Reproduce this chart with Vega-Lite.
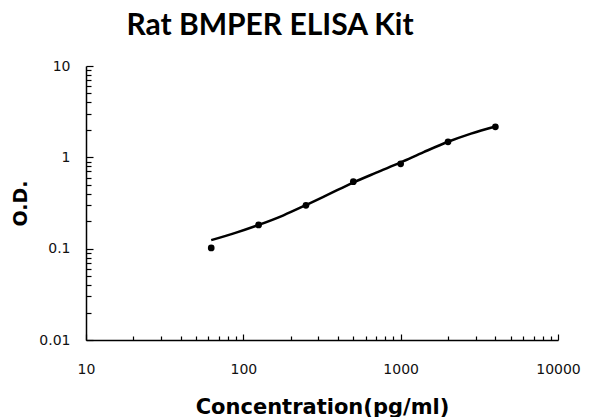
{
  "$schema": "https://vega.github.io/schema/vega-lite/v6.json",
  "autosize": {"type": "none"},
  "width": 472,
  "height": 274,
  "padding": {"left": 86, "top": 66, "right": 31, "bottom": 77},
  "background": "white",
  "config": {"view": {"stroke": null}},
  "title": {
    "text": "Rat BMPER ELISA Kit",
    "font": "Lato",
    "fontSize": 30,
    "fontWeight": "bold",
    "color": "#000000",
    "anchor": "middle",
    "dx": -52,
    "baseline": "alphabetic",
    "offset": -6
  },
  "datasets": {
    "points": [
      {"conc": 62.5, "od": 0.102},
      {"conc": 125, "od": 0.182},
      {"conc": 250, "od": 0.298},
      {"conc": 500, "od": 0.541},
      {"conc": 1000, "od": 0.85},
      {"conc": 2000, "od": 1.48},
      {"conc": 4000, "od": 2.16}
    ],
    "curve": [
      {"conc": 62.5, "od": 0.124},
      {"conc": 90, "od": 0.15},
      {"conc": 125, "od": 0.182},
      {"conc": 180, "od": 0.232},
      {"conc": 250, "od": 0.3},
      {"conc": 350, "od": 0.395},
      {"conc": 500, "od": 0.53},
      {"conc": 700, "od": 0.68},
      {"conc": 1000, "od": 0.88},
      {"conc": 1400, "od": 1.14},
      {"conc": 2000, "od": 1.48},
      {"conc": 2800, "od": 1.82},
      {"conc": 4000, "od": 2.18}
    ]
  },
  "layer": [
    {
      "data": {"name": "curve"},
      "mark": {"type": "line", "color": "#000000", "strokeWidth": 2.5, "interpolate": "monotone"},
      "encoding": {
        "x": {
          "field": "conc", "type": "quantitative",
          "scale": {"type": "log", "domain": [10, 10000]},
          "axis": {
            "title": "Concentration(pg/ml)",
            "titleFont": "DejaVu Sans", "titleFontSize": 21, "titleFontWeight": "bold", "titleColor": "#000000",
            "titleX": 236, "titleY": 73, "titleAlign": "center", "titleBaseline": "alphabetic",
            "values": [10,20,30,40,50,60,70,80,90,100,200,300,400,500,600,700,800,900,1000,2000,3000,4000,5000,6000,7000,8000,9000,10000],
            "format": "d",
            "labelExpr": "abs(log(datum.value)/LN10 - round(log(datum.value)/LN10)) < 0.000001 ? datum.label : ''",
            "labelFont": "DejaVu Sans", "labelFontSize": 14, "labelColor": "#111111",
            "labelPadding": 28,
            "labelFlush": false,
            "labelOverlap": false,
            "grid": false,
            "domainColor": "#000000", "domainWidth": 1.5,
            "tickColor": "#000000", "tickWidth": 1.2,
            "tickSize": {"condition": {"test": "abs(log(datum.value)/LN10 - round(log(datum.value)/LN10)) < 0.000001", "value": -6}, "value": -4}
          }
        },
        "y": {
          "field": "od", "type": "quantitative",
          "scale": {"type": "log", "domain": [0.01, 10]},
          "axis": {
            "title": "O.D.",
            "titleFont": "DejaVu Sans", "titleFontSize": 19, "titleFontWeight": "bold", "titleColor": "#000000",
            "titleX": -66, "titleY": 137, "titleAngle": -90, "titleAlign": "center", "titleBaseline": "middle",
            "values": [0.01,0.02,0.03,0.04,0.05,0.06,0.07,0.08,0.09,0.1,0.2,0.3,0.4,0.5,0.6,0.7,0.8,0.9,1,2,3,4,5,6,7,8,9,10],
            "format": "~g",
            "labelExpr": "abs(log(datum.value)/LN10 - round(log(datum.value)/LN10)) < 0.000001 ? datum.label : ''",
            "labelFont": "DejaVu Sans", "labelFontSize": 14, "labelColor": "#111111",
            "labelPadding": 23,
            "labelFlush": false,
            "labelOverlap": false,
            "grid": false,
            "domainColor": "#000000", "domainWidth": 1.5,
            "tickColor": "#000000", "tickWidth": 1.2,
            "tickSize": {"condition": {"test": "abs(log(datum.value)/LN10 - round(log(datum.value)/LN10)) < 0.000001", "value": -7}, "value": -5}
          }
        }
      }
    },
    {
      "data": {"name": "points"},
      "mark": {"type": "circle", "color": "#000000", "opacity": 1, "size": 45},
      "encoding": {
        "x": {"field": "conc", "type": "quantitative"},
        "y": {"field": "od", "type": "quantitative"}
      }
    }
  ]
}
